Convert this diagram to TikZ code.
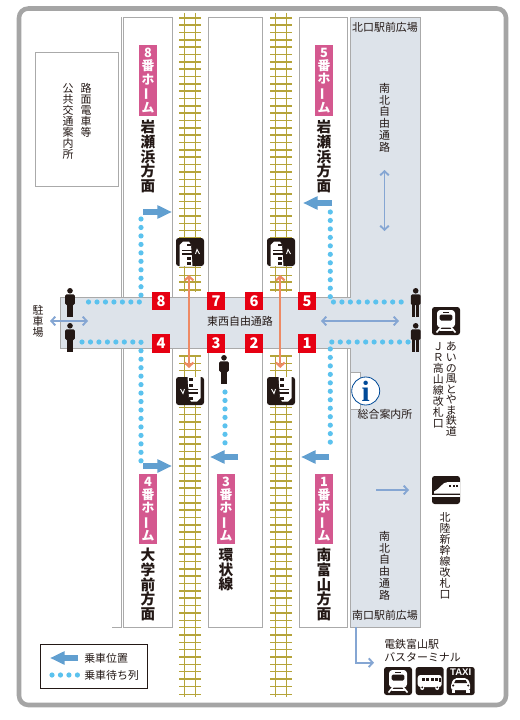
\documentclass[tikz,border=0pt]{standalone}
\usepackage{fontspec}
\setmainfont{Noto Sans CJK JP}
\newfontfamily\serifinfo{Liberation Serif}
\newfontfamily\sansicon{Liberation Sans}
\definecolor{inkDark}{RGB}{35,24,21}
\definecolor{frameGray}{RGB}{165,165,165}
\definecolor{lineGray}{RGB}{170,170,170}
\definecolor{hallGray}{RGB}{221,227,234}
\definecolor{railGold}{RGB}{181,164,58}
\definecolor{platePink}{RGB}{212,88,143}
\definecolor{numRed}{RGB}{230,0,18}
\definecolor{boardBlue}{RGB}{97,159,208}
\definecolor{queueBlue}{RGB}{91,194,238}
\definecolor{walkBlue}{RGB}{133,166,211}
\definecolor{linkSalmon}{RGB}{238,138,101}
\definecolor{infoBlue}{RGB}{0,74,152}
\usepackage{tikz}
\usetikzlibrary{arrows.meta,positioning,calc}
\newcommand{\chobar}{\rotatebox[origin=c]{90}{ー}}
\tikzset{
  platform/.style={draw=lineGray, line width=0.75pt, fill=white},
  tatelabel/.style={align=center, anchor=north, inner sep=0pt, text=inkDark, font=\fontsize{8.2}{8.3}\selectfont},
  yokolabel/.style={inner sep=0pt, text=inkDark, font=\fontsize{8.2}{10}\selectfont},
  destlabel/.style={align=center, anchor=north, inner sep=0pt, text=inkDark, font=\fontsize{11}{11}\selectfont\bfseries},
  plate/.style={fill=platePink, text=white, align=center, inner sep=0pt, minimum width=13.5pt, minimum height=53pt, font=\fontsize{9.6}{9.9}\selectfont\bfseries},
  numbox/.style={fill=numRed, text=white, inner sep=0pt, minimum size=13.7pt, font=\fontsize{11}{11}\selectfont\bfseries},
  boardarrow/.style={line width=4.7pt, boardBlue, -{Triangle[length=11pt,width=9.5pt]}},
  queue/.style={queueBlue, line width=3.9pt, line cap=round, dash pattern=on 0pt off 6.35pt},
  walkarrow/.style={walkBlue, line width=1.4pt, {Straight Barb[length=3pt,width=6.5pt]}-{Straight Barb[length=3pt,width=6.5pt]}},
  walkone/.style={walkBlue, line width=1.4pt, -{Straight Barb[length=3pt,width=6.5pt]}},
  linkarrow/.style={linkSalmon, line width=1.6pt, {Straight Barb[length=3pt,width=6.5pt]}-{Straight Barb[length=3pt,width=6.5pt]}},
  iconbox/.style={fill=inkDark, rounded corners=2pt},
  pics/person/.style={code={
    \fill[inkDark] (0,2.8) circle (2.8);
    \fill[inkDark, rounded corners=1pt] (-4.8,6.3) rectangle (4.8,17);
    \fill[inkDark] (-3.4,15) rectangle (-0.4,29);
    \fill[inkDark] (0.4,15) rectangle (3.4,29);
  }},
  pics/sidetrain/.style={code={
    \fill[iconbox] (-14,-14) rectangle (14,14);
    \fill[white] (-10.5,14) -- (-10.5,-7) -- (-7,-10.5) -- (-1,-10.5) -- (1,-7) -- (2.5,14) -- cycle;
    \fill[inkDark] (-3,-8.5) rectangle (1,-6);
    \fill[inkDark] (-8,-2.5) rectangle (2,-0.8);
    \fill[inkDark] (-8,0.8) rectangle (2,2.5);
    \fill[inkDark] (-3,4.5) rectangle (1,7.5);
    \fill[inkDark] (-3,10) rectangle (1,13);
    \draw[white, line width=0.7pt] (5.5,2) -- (7,-2.5) -- (9.5,2);
  }},
  pics/fronttrain/.style={code={
    \fill[iconbox] (-14,-14) rectangle (14,14);
    \fill[white, rounded corners=2.5pt] (-9,-11) rectangle (9,6.5);
    \fill[inkDark, rounded corners=1pt] (-6.3,-6.5) rectangle (6.3,-0.5);
    \fill[inkDark] (-3,-9.5) rectangle (3,-8.2);
    \draw[white, line width=1.2pt] (-5,6) -- (-9.5,11.5) (5,6) -- (9.5,11.5) (-6.5,9) -- (6.5,9);
  }},
  pics/shinkansen/.style={code={
    \fill[iconbox] (-14,-14) rectangle (14,14);
    \fill[white] (-12,1.5) .. controls (-6,-1) and (-4,-8) .. (2,-8) -- (14,-8) -- (14,3.5) -- (-12,3.5) -- cycle;
    \fill[white] (-14,5.2) rectangle (14,6.6);
    \foreach \wx in {4,7.5,11} \fill[inkDark] (\wx-1,-5) rectangle (\wx+1,-3.4);
  }},
  pics/busicon/.style={code={
    \fill[iconbox] (-14,-14) rectangle (14,14);
    \fill[white, rounded corners=2pt] (-12,-6) rectangle (12,6);
    \foreach \wx in {-8,-3.5,1,5.5} \fill[inkDark] (\wx,-3.5) rectangle (\wx+3,-0.5);
    \fill[inkDark] (9.5,-3.5) rectangle (11,0.5);
    \fill[white] (-7.5,7) circle (2);
    \fill[white] (7.5,7) circle (2);
    \fill[inkDark] (-7.5,6.3) circle (1);
    \fill[inkDark] (7.5,6.3) circle (1);
  }},
  pics/taxiicon/.style={code={
    \fill[iconbox] (-14,-14) rectangle (14,14);
    \node[text=white, inner sep=0pt, font=\sansicon\fontsize{7.2}{7.2}\selectfont\bfseries] (taxiword) at (0,-8.5) {TAXI};
    \fill[white, rounded corners=1.5pt] (-9.5,9) -- (-9.5,2) -- (-6,-3) -- (6,-3) -- (9.5,2) -- (9.5,9) -- cycle;
    \fill[inkDark] (-5,-1) -- (5,-1) -- (6.5,2) -- (-6.5,2) -- cycle;
    \fill[inkDark] (-7.5,4.5) circle (1.2);
    \fill[inkDark] (7.5,4.5) circle (1.2);
    \fill[white] (-9,9) rectangle (-5.5,12);
    \fill[white] (5.5,9) rectangle (9,12);
  }}
}
\begin{document}
\begin{tikzpicture}[x=0.75pt, y=-0.75pt]
    \useasboundingbox (0,0) rectangle (520,720);
    \fill[white] (0,0) rectangle (520,720);

    % Outer frame
    \draw[frameGray, line width=3.4pt, rounded corners=7pt] (19,8.5) rectangle (506,705);

    % Tram and public transport office
    \draw[platform] (35.5,53) rectangle (118.5,187);
    \node[tatelabel] (tramA) at (86,83) {路\\面\\電\\車\\等};
    \node[tatelabel] (tramB) at (68,83) {公\\共\\交\\通\\案\\内\\所};

    % Platforms
    \draw[platform] (121.7,17.3) -- (121.7,297);
    \draw[platform] (112,627) -- (121.7,627) -- (121.7,348);
    \draw[platform] (123.3,297) -- (123.3,17.3) -- (172.5,17.3) -- (172.5,297);
    \draw[platform] (123.3,348) -- (123.3,627) -- (172.5,627) -- (172.5,348);
    \draw[platform] (208.5,297) -- (208.5,17.3) -- (262.5,17.3) -- (262.5,297);
    \draw[platform] (208.5,348) -- (208.5,627) -- (262.5,627) -- (262.5,348);
    \draw[platform] (299.3,297) -- (299.3,17.3) -- (347.7,17.3) -- (347.7,297);
    \draw[platform] (299.3,348) -- (299.3,627) -- (347.7,627) -- (347.7,348);

    % Tracks
    \foreach \tx in {190,281} {
      \draw[railGold, line width=0.6pt] (\tx-5.4,13) -- (\tx-5.4,697) (\tx+5.4,13) -- (\tx+5.4,697);
      \foreach \i in {0,1,...,92} {
        \pgfmathsetmacro{\tiey}{17.7+7.35*\i}
        \pgfmathsetmacro{\tiew}{mod(\i,3)==2 ? 0.6 : 1.3}
        \draw[railGold, line width=\tiew pt] (\tx-11,\tiey) -- (\tx+11,\tiey);
      }
      \fill[white] (\tx-13,291.5) rectangle (\tx+13,354.5);
    }

    % Free passages
    \draw[platform, fill=hallGray] (350.7,17.3) -- (420.7,17.3) -- (420.7,627) -- (350.7,627) -- (350.7,348)
      -- (60.5,348) -- (60.5,297) -- (350.7,297) -- cycle;
    \node[yokolabel] (hallName) at (240,321) {東西自由通路};
    \node[yokolabel] (northPlaza) at (385,27) {北口駅前広場};
    \node[yokolabel] (southPlaza) at (385,615) {南口駅前広場};
    \node[tatelabel, font=\fontsize{8.2}{8.8}\selectfont] (northWay) at (384.7,83) {南\\北\\自\\由\\通\\路};
    \node[tatelabel, font=\fontsize{8.2}{8.8}\selectfont] (southWay) at (384.7,531) {南\\北\\自\\由\\通\\路};
    \node[tatelabel] (parking) at (38,305) {駐\\車\\場};

    % Information
    \draw[platform] (350.7,372) rectangle (360.7,409);
    \node[circle, draw=infoBlue, fill=white, line width=0.6pt, minimum size=21pt, inner sep=0pt, text=infoBlue,
      font=\serifinfo\fontsize{22}{22}\selectfont\bfseries] (infoMark) at (365.7,391) {i};
    \node[yokolabel] (infoName) at (385,414) {総合案内所};

    % Queues
    \coordinate (q8a) at (141,219);
    \coordinate (q8b) at (141,302);
    \coordinate (q8c) at (82,302);
    \coordinate (q4a) at (82,342);
    \coordinate (q4b) at (141,342);
    \coordinate (q4c) at (141,462);
    \coordinate (q5a) at (330.3,212);
    \coordinate (q5b) at (330.3,302);
    \coordinate (q5c) at (408,302);
    \coordinate (q1a) at (408,342);
    \coordinate (q1b) at (330.3,342);
    \coordinate (q1c) at (330.3,449);
    \coordinate (q3a) at (225,392);
    \coordinate (q3b) at (225,445);
    \draw[queue] (q8a) -- (q8b) -- (q8c);
    \draw[queue] (q4a) -- (q4b) -- (q4c);
    \draw[queue] (q5a) -- (q5b) -- (q5c);
    \draw[queue] (q1a) -- (q1b) -- (q1c);
    \draw[queue] (q3a) -- (q3b);

    % Boarding positions
    \coordinate (b8a) at (143,212);
    \coordinate (b8b) at (172,212);
    \coordinate (b5a) at (332,203);
    \coordinate (b5b) at (303,203);
    \coordinate (b4a) at (143,466);
    \coordinate (b4b) at (172,466);
    \coordinate (b3a) at (238,457);
    \coordinate (b3b) at (210,457);
    \coordinate (b1a) at (329,457);
    \coordinate (b1b) at (301,457);
    \draw[boardarrow] (b8a) -- (b8b);
    \draw[boardarrow] (b5a) -- (b5b);
    \draw[boardarrow] (b4a) -- (b4b);
    \draw[boardarrow] (b3a) -- (b3b);
    \draw[boardarrow] (b1a) -- (b1b);

    % Platform numbers
    \node[numbox] (n8) at (161,301) {8};
    \node[numbox] (n7) at (216,301) {7};
    \node[numbox] (n6) at (254,301) {6};
    \node[numbox] (n5) at (307,301) {5};
    \node[numbox] (n4) at (161,343.5) {4};
    \node[numbox] (n3) at (216,343.5) {3};
    \node[numbox] (n2) at (254,343.5) {2};
    \node[numbox] (n1) at (307,343.5) {1};

    % Platform plates and destinations
    \node[plate] (plate8) at (148,80.5) {8\\番\\ホ\\\chobar\\ム};
    \node[plate] (plate5) at (324,80.5) {5\\番\\ホ\\\chobar\\ム};
    \node[plate] (plate4) at (148,509) {4\\番\\ホ\\\chobar\\ム};
    \node[plate] (plate3) at (226,509) {3\\番\\ホ\\\chobar\\ム};
    \node[plate] (plate1) at (324,509) {1\\番\\ホ\\\chobar\\ム};
    \node[destlabel] (dest8) at (148,120) {岩\\瀬\\浜\\方\\面};
    \node[destlabel] (dest5) at (324,120) {岩\\瀬\\浜\\方\\面};
    \node[destlabel] (dest4) at (148,548) {大\\学\\前\\方\\面};
    \node[destlabel] (dest3) at (226,548) {環\\状\\線};
    \node[destlabel] (dest1) at (324,548) {南\\富\\山\\方\\面};

    % Train icons on the tracks
    \pic at (190,252) {sidetrain};
    \pic at (281,252) {sidetrain};
    \pic[rotate=180] at (190,391) {sidetrain};
    \pic[rotate=180] at (281,391) {sidetrain};
    \coordinate (link1a) at (189,275);
    \coordinate (link1b) at (189,368);
    \coordinate (link2a) at (280.3,275);
    \coordinate (link2b) at (280.3,368);
    \draw[linkarrow] (link1a) -- (link1b);
    \draw[linkarrow] (link2a) -- (link2b);

    % People
    \pic at (70,288) {person};
    \pic at (70,323) {person};
    \pic at (415.7,288) {person};
    \pic at (415.7,323) {person};
    \pic at (224,355) {person};

    % Walking directions
    \coordinate (parkL) at (50,321);
    \coordinate (parkR) at (88,321);
    \coordinate (eastL) at (321,321);
    \coordinate (eastR) at (399,321);
    \coordinate (wayN) at (384.5,170);
    \coordinate (wayS) at (384.5,231);
    \coordinate (shinA) at (376,490);
    \coordinate (shinB) at (409,490);
    \coordinate (busA) at (355.7,627);
    \coordinate (busB) at (355.7,662.7);
    \coordinate (busC) at (374,662.7);
    \draw[walkarrow] (parkL) -- (parkR);
    \draw[walkarrow] (eastL) -- (eastR);
    \draw[walkarrow] (wayN) -- (wayS);
    \draw[walkone] (shinA) -- (shinB);
    \draw[walkone] (busA) -- (busB) -- (busC);

    % Ainokaze and Shinkansen gates
    \pic at (446,321) {fronttrain};
    \node[tatelabel, font=\fontsize{8.2}{7.9}\selectfont] (gateAino) at (451.3,342) {あ\\い\\の\\風\\と\\や\\ま\\鉄\\道};
    \node[tatelabel] (gateJR) at (438.3,342) {Ｊ\\Ｒ\\高\\山\\線\\改\\札\\口};
    \pic at (446,490) {shinkansen};
    \node[tatelabel] (gateShin) at (445,512) {北\\陸\\新\\幹\\線\\改\\札\\口};

    % Bus terminal
    \node[yokolabel, anchor=west] (busLineA) at (384,644) {電鉄富山駅};
    \node[yokolabel, anchor=west] (busLineB) at (384,657) {バスターミナル};
    \pic at (398,681) {fronttrain};
    \pic at (429.7,681) {busicon};
    \pic at (460.7,681) {taxiicon};

    % Legend
    \draw[inkDark, line width=0.75pt] (40.3,644) rectangle (147.7,688);
    \coordinate (legA) at (78,658);
    \coordinate (legB) at (50,658);
    \coordinate (legC) at (52,675);
    \coordinate (legD) at (78,675);
    \draw[boardarrow] (legA) -- (legB);
    \draw[queue] (legC) -- (legD);
    \node[yokolabel, anchor=west] (legBoard) at (84,658) {乗車位置};
    \node[yokolabel, anchor=west] (legQueue) at (84,675) {乗車待ち列};
  \end{tikzpicture}
\end{document}
